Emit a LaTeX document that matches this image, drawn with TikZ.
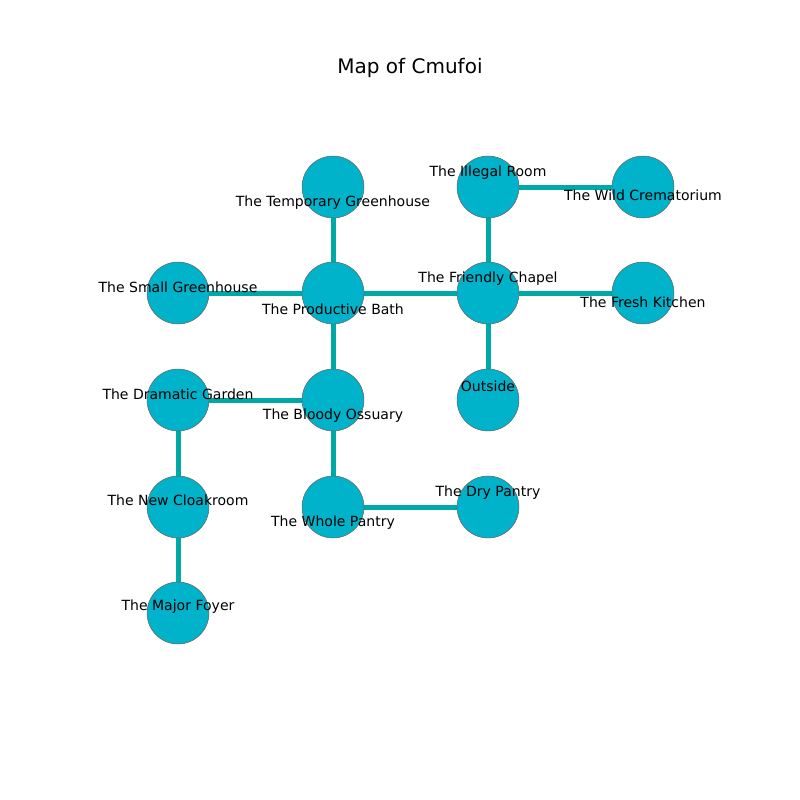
\documentclass[tikz,border=0pt]{standalone}
\usepackage{fontspec}
\setmainfont{DejaVu Sans}
\usetikzlibrary{backgrounds}
\definecolor{nodefill}{RGB}{0,178,202}
\definecolor{edgecol}{RGB}{0,168,168}
\tikzset{
  room/.style={circle, fill=nodefill, draw=gray!80!black, line width=0.4pt, minimum size=44.6pt, inner sep=0pt},
  lbl/.style={font=\fontsize{10.1pt}{12pt}\selectfont, inner sep=0pt, anchor=center},
  link/.style={draw=edgecol, line width=3.6pt}
}
\begin{document}
\begin{tikzpicture}[x=0.72pt, y=-0.72pt]
\useasboundingbox (0,0) rectangle (800,800);
\node[font=\fontsize{14.4pt}{16pt}\selectfont] (title) at (410,68) {Map of Cmufoi};
% rooms
\node[room] (tg) at (333,187) {};
\node[room] (ir) at (488,187) {};
\node[room] (wc) at (643,187) {};
\node[room] (sg) at (178,293) {};
\node[room] (pb) at (333,293) {};
\node[room] (fc) at (488,293) {};
\node[room] (fk) at (643,293) {};
\node[room] (dg) at (178,400) {};
\node[room] (bo) at (333,400) {};
\node[room] (ou) at (488,400) {};
\node[room] (nc) at (178,507) {};
\node[room] (wp) at (333,507) {};
\node[room] (dp) at (488,507) {};
\node[room] (mf) at (178,613) {};
% connectors
\begin{pgfonlayer}{background}
\draw[link] (tg.center) -- (pb.center);
\draw[link] (sg.center) -- (pb.center);
\draw[link] (pb.center) -- (fc.center);
\draw[link] (pb.center) -- (bo.center);
\draw[link] (ir.center) -- (wc.center);
\draw[link] (ir.center) -- (fc.center);
\draw[link] (fc.center) -- (fk.center);
\draw[link] (fc.center) -- (ou.center);
\draw[link] (dg.center) -- (bo.center);
\draw[link] (dg.center) -- (nc.center);
\draw[link] (bo.center) -- (wp.center);
\draw[link] (wp.center) -- (dp.center);
\draw[link] (nc.center) -- (mf.center);
\end{pgfonlayer}
% labels
\node[lbl] (ltg) at (333,203) {The Temporary Greenhouse};
\node[lbl] (lir) at (488,173) {The Illegal Room};
\node[lbl] (lwc) at (643,195) {The Wild Crematorium};
\node[lbl] (lsg) at (178,287) {The Small Greenhouse};
\node[lbl] (lpb) at (333,309) {The Productive Bath};
\node[lbl] (lfc) at (488,279) {The Friendly Chapel};
\node[lbl] (lfk) at (643,302) {The Fresh Kitchen};
\node[lbl] (ldg) at (178,394) {The Dramatic Garden};
\node[lbl] (lbo) at (333,416) {The Bloody Ossuary};
\node[lbl] (lou) at (488,386) {Outside};
\node[lbl] (lnc) at (178,500) {The New Cloakroom};
\node[lbl] (lwp) at (333,523) {The Whole Pantry};
\node[lbl] (ldp) at (488,493) {The Dry Pantry};
\node[lbl] (lmf) at (178,607) {The Major Foyer};
\end{tikzpicture}
\end{document}
